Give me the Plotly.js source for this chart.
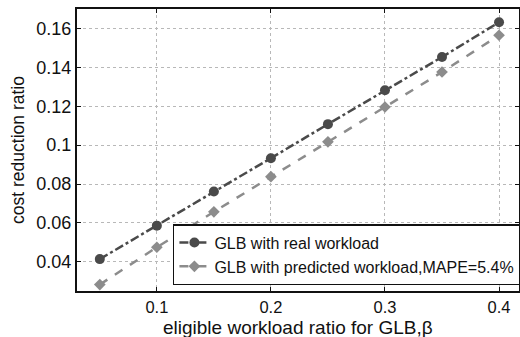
<!DOCTYPE html>
<html>
<head>
<meta charset="utf-8">
<script src="https://cdn.plot.ly/plotly-3.0.1.min.js"></script>
<style>html,body{margin:0;padding:0;background:#fff;}#chart{width:520px;height:337px;}</style>
</head>
<body>
<div id="chart"></div>
<script>
const beta = [0.05, 0.1, 0.15, 0.2, 0.25, 0.3, 0.35, 0.4];
const realWorkload = [0.0414, 0.0586, 0.0762, 0.0933, 0.1108, 0.1282, 0.1453, 0.1632];
const predictedWorkload = [0.0283, 0.0475, 0.0657, 0.0838, 0.1017, 0.1196, 0.1376, 0.1565];
const seriesNames = ["GLB with real workload", "GLB with predicted workload,MAPE=5.4%"];
const xTicks = [0.1, 0.2, 0.3, 0.4];
const xTickText = ["0.1", "0.2", "0.3", "0.4"];
const yTicks = [0.04, 0.06, 0.08, 0.1, 0.12, 0.14, 0.16];
const yTickText = ["0.04", "0.06", "0.08", "0.1", "0.12", "0.14", "0.16"];
const xTitle = "eligible workload ratio for GLB,β";
const yTitle = "cost reduction ratio";

const font = "Liberation Sans, Arial, sans-serif";
const traces = [
  {x: beta, y: realWorkload, name: seriesNames[0], mode: "lines+markers",
   line: {color: "#4a4a4a", width: 2.5, dash: "dashdot"},
   marker: {symbol: "circle", size: 10, color: "#4a4a4a"}},
  {x: beta, y: predictedWorkload, name: seriesNames[1], mode: "lines+markers",
   line: {color: "#8c8c8c", width: 2.5, dash: "dash"},
   marker: {symbol: "diamond", size: 9, color: "#8c8c8c"}}
];
const axisCommon = {
  showline: true, linecolor: "#111", linewidth: 2, mirror: "ticks",
  ticks: "inside", ticklen: 4, tickcolor: "#111", automargin: false,
  showgrid: true, gridcolor: "#b8b8b8", griddash: "dot", gridwidth: 1,
  zeroline: false, tickfont: {family: font, size: 18, color: "#111"}
};
const layout = {
  width: 520, height: 337,
  margin: {l: 77, r: 1, t: 9, b: 46, autoexpand: false},
  paper_bgcolor: "#fff", plot_bgcolor: "#fff",
  showlegend: true,
  xaxis: Object.assign({}, axisCommon, {
    range: [0.03, 0.4175], tickvals: xTicks, ticktext: xTickText,
    ticklabelstandoff: 0, tickfont: {family: font, size: 16.5, color: "#111"}
  }),
  yaxis: Object.assign({}, axisCommon, {
    range: [0.025, 0.17], tickvals: yTicks, ticktext: yTickText,
    title: {text: yTitle, font: {family: font, size: 17.5, color: "#111"}, standoff: 7}
  }),
  annotations: [{
    text: xTitle, xref: "paper", yref: "paper", x: 0.5, y: -0.129,
    xanchor: "center", yanchor: "middle", showarrow: false,
    font: {family: font, size: 19, color: "#111"}, borderpad: 0
  }],
  legend: {
    x: 0.217, y: 0.021, xanchor: "left", yanchor: "bottom",
    bgcolor: "#fff", bordercolor: "#111", borderwidth: 1.5,
    font: {family: font, size: 16, color: "#111"},
    tracegroupgap: 0, itemwidth: 30
  }
};
Plotly.newPlot("chart", traces, layout, {displayModeBar: false, staticPlot: true});
</script>
</body>
</html>
